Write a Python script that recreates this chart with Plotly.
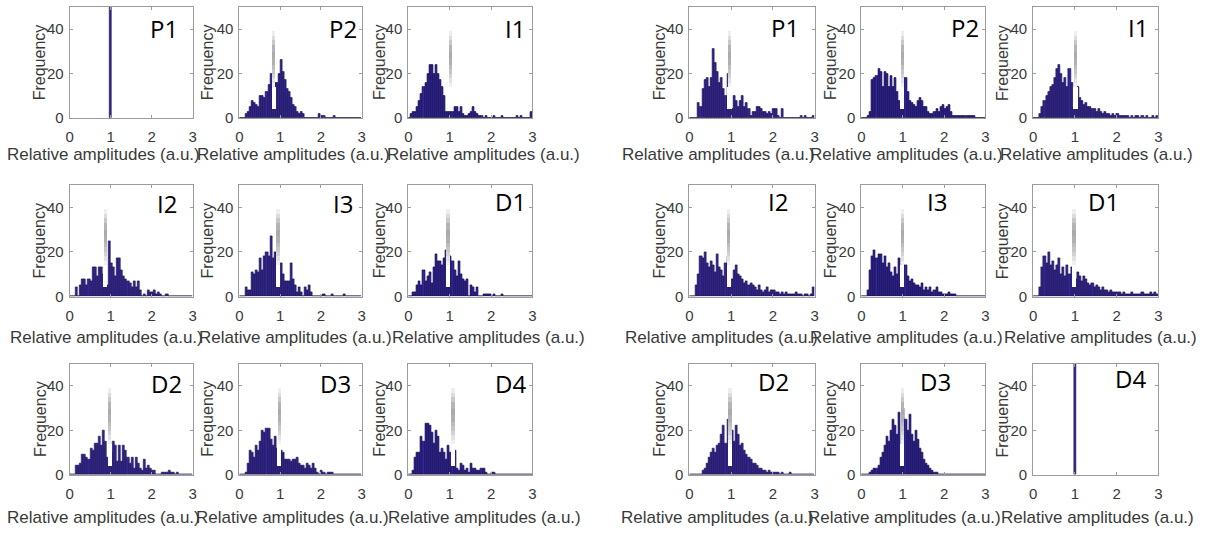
import numpy as np
import plotly.graph_objects as go

W, H = 1211, 537
BIN_W = 0.05
bin_centers = (np.arange(60) + 0.5) * BIN_W

# ---------------- histogram counts (bins of 0.05 from 0 to 3) ----------------
left_P2 = [0,0,0,2,3,5,8,7,6,5,  10,10,9,12,15,20,15,16,16,20,  26,21,17,13,12,9,6,5,3,2,
           3,2,0,0,0,0,0,0,0,2,  1,1,0,0,0,0,1,0,0,0,  0,0,0,0,0,0,0,0,0,0]
left_I1 = [0,2,3,3,5,8,11,14,16,20,  24,24,20,24,20,17,14,10,3,3,  3,3,5,5,3,5,2,1,1,2,
           3,5,3,2,1,1,0,1,0,0,  0,1,0,0,0,1,0,0,0,0,  0,0,1,0,1,0,0,0,0,3]
left_I2 = [0,0,0,4,0,5,8,8,5,8,  7,13,13,9,13,13,10,6,5,25,  15,13,9,17,17,12,9,8,7,6,
           4,7,4,7,3,0,1,0,3,2,  2,3,1,2,1,0,0,1,0,0,  0,0,0,0,0,0,0,0,0,0]
left_I3 = [0,0,0,4,3,3,11,10,12,11,  17,12,18,20,18,27,17,20,18,5,  15,10,7,7,7,15,8,5,2,4,
           2,0,4,3,5,2,0,0,0,0,  0,1,0,0,0,1,0,0,0,0,  0,1,0,0,0,0,0,0,0,0]
left_D1 = [0,0,2,2,5,7,5,12,7,9,  11,6,13,19,16,16,14,17,21,5,  18,16,12,9,16,10,8,7,8,0,
           5,4,2,4,0,0,1,1,1,1,  0,1,0,0,0,1,0,0,0,0,  0,0,0,0,0,0,0,0,0,0]
left_D2 = [0,0,0,4,4,5,9,9,8,7,  12,11,14,14,17,13,20,15,8,5,  10,15,13,6,13,6,13,11,8,5,
           8,3,8,5,3,2,7,3,4,3,  2,2,0,0,0,1,1,1,2,1,  1,0,1,0,0,0,0,0,0,0]
left_D3 = [0,0,0,1,5,11,10,8,13,11,  15,20,19,21,21,16,13,17,12,5,  11,10,7,7,7,6,7,7,8,5,
           4,4,3,5,4,3,5,3,1,0,  2,1,0,1,1,1,0,0,0,0,  0,0,0,0,0,0,0,0,0,0]
left_D4 = [0,0,2,8,10,10,17,15,23,23,  22,19,14,20,17,10,12,10,7,13,  10,5,11,3,2,5,4,2,3,1,
           5,3,3,2,2,3,3,1,0,0,  1,1,0,0,0,0,0,0,0,0,  0,0,0,0,0,0,0,0,0,0]

right_P1 = [0,0,0,0,7,5,13,17,18,14,  18,31,25,21,16,18,13,10,20,5,  4,10,8,5,8,10,5,7,4,1,
            3,3,5,5,4,3,3,2,3,2,  4,4,1,0,4,0,0,0,0,0,  0,0,0,1,0,1,0,0,0,1]
right_P2 = [0,0,0,1,3,17,18,19,22,21,  14,21,20,14,19,14,18,12,8,5,  5,18,12,8,7,6,5,8,9,8,
            5,5,3,2,2,3,4,3,5,6,  4,5,6,3,1,1,1,1,1,1,  1,1,1,1,1,0,0,0,0,0]
right_I1 = [0,0,0,2,5,8,10,12,14,15,  18,22,24,20,16,18,14,22,16,5,  6,14,9,8,6,7,5,5,4,4,
            3,4,3,2,3,2,2,1,2,1,  2,1,1,1,1,1,0,1,0,1,  1,0,1,0,1,0,0,1,0,1]
right_I2 = [0,0,0,5,10,18,17,20,15,13,  16,14,11,19,13,12,9,15,18,5,  8,12,14,10,9,8,6,7,5,6,
            5,4,3,5,3,2,3,4,2,3,  3,2,2,1,2,1,2,1,1,1,  1,2,1,1,0,1,1,0,1,4]
right_I3 = [0,0,0,3,12,18,21,17,19,19,  15,18,13,15,11,9,13,10,17,5,  10,14,9,7,8,6,5,5,4,6,
            3,4,3,4,2,3,4,2,2,1,  1,1,2,1,1,1,0,0,0,0,  0,0,0,0,0,0,0,0,0,0]
right_D1 = [0,0,0,4,13,18,15,20,14,16,  12,14,17,10,13,9,14,10,13,5,  8,11,9,7,9,8,6,5,6,4,
            5,4,3,4,3,3,2,3,2,2,  2,2,1,2,1,1,1,2,1,1,  1,1,2,1,1,1,2,1,2,1]
right_D2 = [0,0,0,0,0,0,2,3,5,8,  10,12,10,13,14,18,22,14,25,5,  20,15,22,18,13,14,11,9,8,7,
            5,5,4,3,3,2,2,1,2,1,  1,1,1,0,1,0,0,0,1,0,  0,0,0,0,0,0,0,0,0,0]
right_D3 = [0,0,0,0,1,2,3,3,4,8,  10,13,17,15,20,25,22,18,28,5,  30,25,20,27,18,15,20,16,12,10,
            7,5,4,3,2,1,1,0,0,0,  0,0,0,0,0,0,0,0,0,0,  0,0,0,0,0,0,0,0,0,0]

# single spike panels (all amplitudes equal to 1)
spike_x = [1.0]
spike_count = [300]

# panel labels per group, row-major
labels = ["P1", "P2", "I1", "I2", "I3", "D1", "D2", "D3", "D4"]
left_counts = [None, left_P2, left_I1, left_I2, left_I3, left_D1, left_D2, left_D3, left_D4]
right_counts = [right_P1, right_P2, right_I1, right_I2, right_I3, right_D1, right_D2, right_D3, None]

# position of the blurred masking strip near 1 (per panel)
left_strip_x = [None, 0.85, 1.03, 0.86, 0.96, 0.97, 0.97, 0.99, 1.09]
right_strip_x = [0.97, 1.0, 1.02, 0.95, 1.0, 0.98, 0.98, 1.0, None]
strip_levels = [4, 14, 16, 18, 20, 22, 24, 27, 30, 33, 35, 37, 39]
strip_colors = ["#ffffff", "#f0f0f0", "#e2e2e2", "#d2d2d2", "#c6c6c6", "#bcbcbc",
                "#b0b0b0", "#aaaaaa", "#b4b4b4", "#c8c8c8", "#dcdcdc", "#eeeeee"]

xticks = [0, 1, 2, 3]
yticks = [0, 20, 40]

# ---------------- layout geometry (pixels) ----------------
col_px = [[(66, 190), (237, 360), (407, 532)], [(690, 816), (863, 988), (1036, 1162)]]
row_px = [(7, 120), (188, 301), (369, 482)]
xlabel_cx = [[[100, 291, 483], [103, 293, 488], [100, 290, 484]],
             [[719, 908, 1100], [722, 908, 1104], [718, 906, 1101]]]
xlabel_cy = [157, 343, 525]
ylabel_cx = [[36, 205, 378], [660, 832, 1005]]
panel_lab = [[(161, 29), (341, 29), (514, 29), (164, 207), (341, 207), (510, 205),
              (164, 389), (334, 389), (510, 389)],
             [(786, 28), (967, 28), (1142, 28), (779, 205), (939, 205), (1107, 205),
              (775, 387), (938, 387), (1134, 384)]]

BAR_FILL = "#33259a"
BAR_EDGE = "#17113f"
AX_COL = "#9c9c9c"
TXT = "#3a3a3a"
FONT = "Liberation Sans, Arial, sans-serif"

fig = go.Figure()
layout = dict(width=W, height=H, margin=dict(l=0, r=0, t=0, b=0),
              paper_bgcolor="white", plot_bgcolor="white", showlegend=False,
              barmode="overlay", bargap=0)
annotations = []

idx = 0
for g, (counts_list, strips) in enumerate([(left_counts, left_strip_x), (right_counts, right_strip_x)]):
    for p in range(9):
        idx += 1
        r, c = divmod(p, 3)
        xa, ya = f"x{idx}", f"y{idx}"
        x0, x1 = col_px[g][c]
        y0, y1 = row_px[r]
        counts = counts_list[p]
        if counts is None:
            fig.add_trace(go.Bar(x=spike_x, y=spike_count, width=0.045, xaxis=xa, yaxis=ya,
                                 marker=dict(color=BAR_FILL, line=dict(color=BAR_EDGE, width=0.6)),
                                 hoverinfo="skip"))
        else:
            fig.add_trace(go.Bar(x=bin_centers, y=counts, width=BIN_W, xaxis=xa, yaxis=ya,
                                 marker=dict(color=BAR_FILL, line=dict(color=BAR_EDGE, width=0.6)),
                                 hoverinfo="skip"))
        sx = strips[p]
        if sx is not None:
            for k in range(len(strip_colors)):
                lo, hi = strip_levels[k], strip_levels[k + 1]
                fig.add_trace(go.Bar(x=[sx], y=[hi - lo], base=[lo], width=0.1 if k == 0 else 0.08,
                                     xaxis=xa, yaxis=ya, marker=dict(color=strip_colors[k], line=dict(width=0)),
                                     hoverinfo="skip"))
        axis_common = dict(showgrid=False, zeroline=False, showline=True, linecolor=AX_COL, linewidth=1,
                           mirror="ticks", ticks="inside", ticklen=3, tickcolor=AX_COL,
                           tickfont=dict(family=FONT, size=15, color=TXT), fixedrange=True)
        layout["xaxis" if idx == 1 else f"xaxis{idx}"] = dict(
            domain=[x0 / W, x1 / W], anchor=ya, range=[0, 3], tickvals=xticks,
            ticklabelstandoff=5, **axis_common)
        layout["yaxis" if idx == 1 else f"yaxis{idx}"] = dict(
            domain=[1 - y1 / H, 1 - y0 / H], anchor=xa, range=[0, 50], tickvals=yticks,
            ticklabelstandoff=2, **axis_common)
        # panel label
        lx, ly = panel_lab[g][p]
        annotations.append(dict(x=lx / W, y=1 - ly / H, xref="paper", yref="paper", text=labels[p],
                                showarrow=False, xanchor="center", yanchor="middle",
                                font=dict(family="Open Sans, sans-serif", size=24, color="black")))
        # x title
        annotations.append(dict(x=xlabel_cx[g][r][c] / W, y=1 - xlabel_cy[r] / H, xref="paper", yref="paper",
                                text="Relative amplitudes (a.u.)", showarrow=False,
                                xanchor="center", yanchor="middle",
                                font=dict(family=FONT, size=17, color=TXT)))
        # y title
        annotations.append(dict(x=ylabel_cx[g][c] / W, y=1 - ((y0 + y1) / 2) / H, xref="paper", yref="paper",
                                text="Frequency", showarrow=False, textangle=-90,
                                xanchor="center", yanchor="middle",
                                font=dict(family=FONT, size=16, color=TXT)))

layout["annotations"] = annotations
fig.update_layout(**layout)
fig.write_html("out.html")
